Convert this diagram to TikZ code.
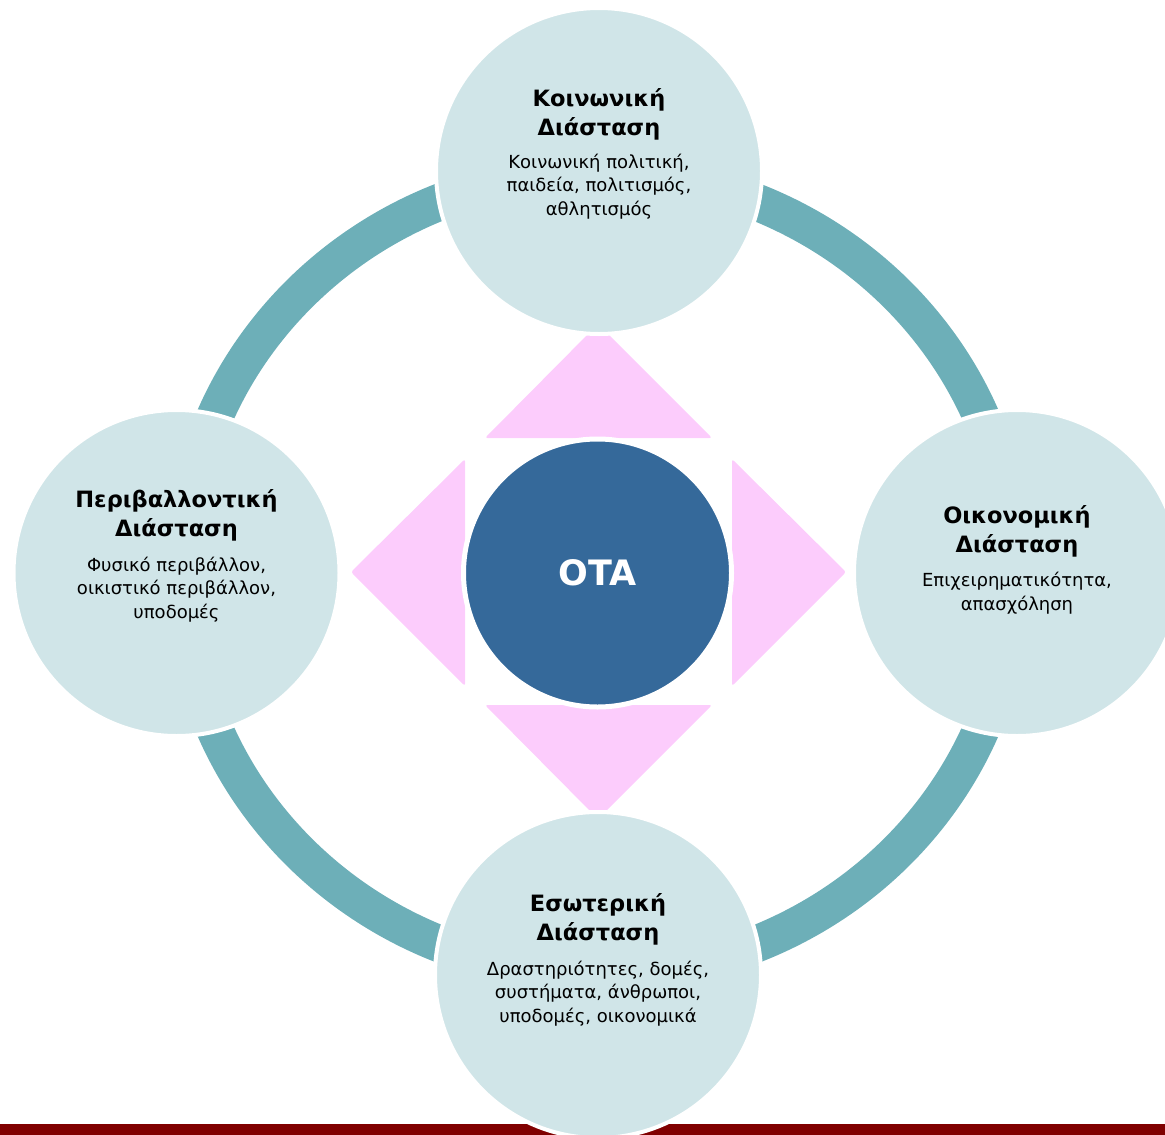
\documentclass[tikz,border=0pt]{standalone}
\usepackage{fontspec}
\setmainfont{DejaVu Sans}
\definecolor{ringc}{HTML}{6DAFB8}
\definecolor{lightc}{HTML}{D0E5E8}
\definecolor{hubc}{HTML}{35699A}
\definecolor{pinkc}{HTML}{FCCCFC}
\definecolor{barc}{HTML}{800000}
\begin{document}
\begin{tikzpicture}[x=1pt,y=-1pt,
  ring/.style={draw=ringc, line width=37pt},
  tri/.style={fill=pinkc, rounded corners=2.5pt},
  outer/.style={circle, fill=lightc, draw=white, line width=4pt, minimum size=326pt, inner sep=0pt},
  hub/.style={circle, fill=hubc, draw=white, line width=5pt, minimum size=268pt, inner sep=0pt, text=white, font=\fontsize{35}{40}\selectfont\bfseries},
  ttl/.style={align=center, anchor=base, font=\fontsize{22.5}{28.5}\selectfont\bfseries, inner sep=0pt},
  bdy/.style={align=center, anchor=base, font=\fontsize{18}{23.5}\selectfont, inner sep=0pt}]
\useasboundingbox (0,0) rectangle (1165,1135);
\clip (0,0) rectangle (1165,1135);
\fill[barc] (0,1124) rectangle (1165,1135);
\draw[ring] (598,573) ellipse [x radius=416, y radius=401];
% pink triangles
\fill[tri] (485,438) -- (598,324) -- (712,438) -- cycle;
\fill[tri] (485,705) -- (598,819) -- (712,705) -- cycle;
\fill[tri] (465,459) -- (351,572) -- (465,686) -- cycle;
\fill[tri] (732,459) -- (846,572) -- (732,686) -- cycle;
% hub
\node[hub] (ota) at (597.5,573) {OTA};
% outer circles
\node[outer] (soc) at (599,171) {};
\node[outer] (eco) at (1017,573) {};
\node[outer] (env) at (176.5,573) {};
\node[outer] (int) at (598,975) {};
% texts (anchor = baseline of the last line)
\node[ttl] (socT) at (599,135) {Κοινωνική\\Διάσταση};
\node[bdy] (socB) at (599,215) {Κοινωνική πολιτική,\\παιδεία, πολιτισμός,\\αθλητισμός};
\node[ttl] (ecoT) at (1017,552) {Οικονομική\\Διάσταση};
\node[bdy] (ecoB) at (1017,610) {Επιχειρηματικότητα,\\απασχόληση};
\node[ttl] (envT) at (176.5,536) {Περιβαλλοντική\\Διάσταση};
\node[bdy] (envB) at (176.5,618) {Φυσικό περιβάλλον,\\οικιστικό περιβάλλον,\\υποδομές};
\node[ttl] (intT) at (598,940) {Εσωτερική\\Διάσταση};
\node[bdy] (intB) at (598,1022) {Δραστηριότητες, δομές,\\συστήματα, άνθρωποι,\\υποδομές, οικονομικά};
\end{tikzpicture}
\end{document}
